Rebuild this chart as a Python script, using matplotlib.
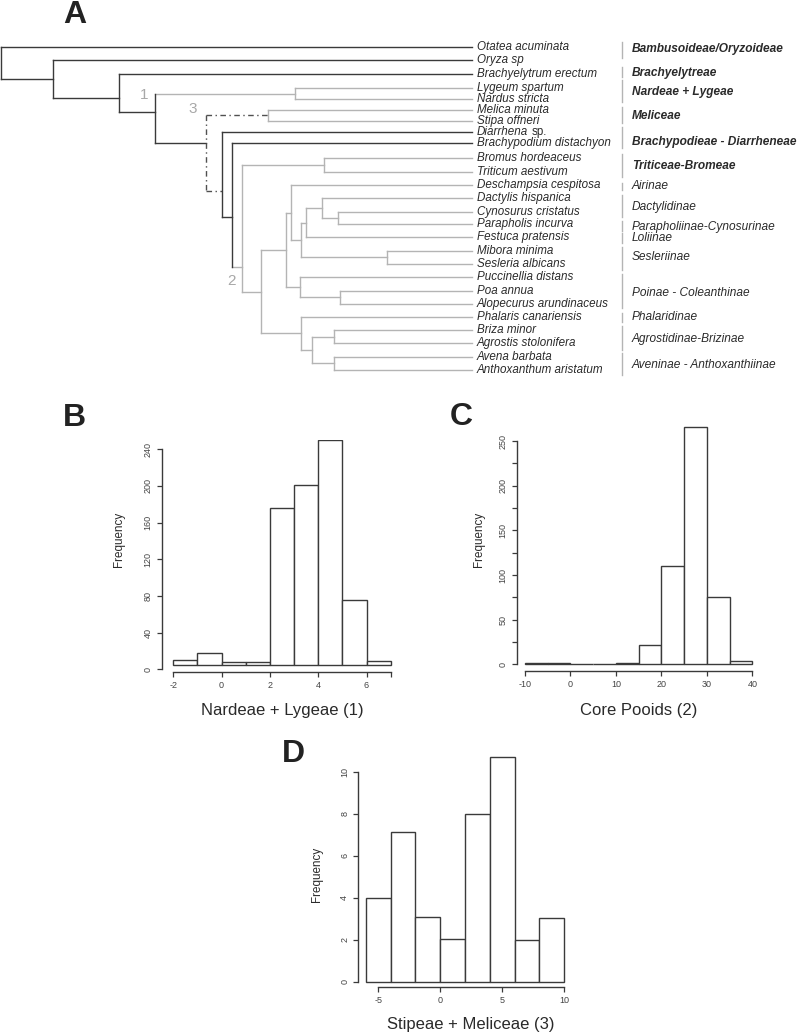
import matplotlib
matplotlib.use("Agg")
import matplotlib.pyplot as plt
import numpy as np

plt.rcParams["font.family"] = ["Liberation Sans", "DejaVu Sans"]

W, H = 798, 1035
DARK = "#3a3a3a"
GRAY = "#b4b4b4"
TXT = "#2a2a2a"

# ---------------- tree data ----------------
tip_names = [
    "Otatea acuminata", "Oryza sp", "Brachyelytrum erectum", "Lygeum spartum",
    "Nardus stricta", "Melica minuta", "Stipa offneri", "Diarrhena sp.",
    "Brachypodium distachyon", "Bromus hordeaceus", "Triticum aestivum",
    "Deschampsia cespitosa", "Dactylis hispanica", "Cynosurus cristatus",
    "Parapholis incurva", "Festuca pratensis", "Mibora minima", "Sesleria albicans",
    "Puccinellia distans", "Poa annua", "Alopecurus arundinaceus",
    "Phalaris canariensis", "Briza minor", "Agrostis stolonifera",
    "Avena barbata", "Anthoxanthum aristatum",
]
tip_row_values = [0, 0.98, 2.0, 3.03, 3.9, 4.7, 5.5, 6.33, 7.2, 8.33, 9.33,
                  10.33, 11.33, 12.33, 13.28, 14.25, 15.26, 16.26, 17.26, 18.26,
                  19.26, 20.21, 21.21, 22.21, 23.21, 24.21]
tip_depth = 100

# internal node: (depth, children)
nodes = {
    "root": (0, ["Otatea acuminata", "n_ory"]),
    "n_ory": (11.1, ["Oryza sp", "n_bry"]),
    "n_bry": (25.1, ["Brachyelytrum erectum", "n1"]),
    "n1": (32.7, ["n_lyg", "n3"]),
    "n_lyg": (62.5, ["Lygeum spartum", "Nardus stricta"]),
    "n3": (43.5, ["n_mel", "nA"]),
    "n_mel": (56.8, ["Melica minuta", "Stipa offneri"]),
    "nA": (46.9, ["Diarrhena sp.", "nB"]),
    "nB": (49.0, ["Brachypodium distachyon", "n2"]),
    "n2": (51.1, ["n_tri", "nR"]),
    "n_tri": (68.7, ["Bromus hordeaceus", "Triticum aestivum"]),
    "nR": (55.2, ["nP", "nAv"]),
    "nP": (60.5, ["nQ", "nPoi"]),
    "nQ": (61.7, ["Deschampsia cespitosa", "nS"]),
    "nS": (63.7, ["nU", "nMib"]),
    "nU": (64.8, ["nDac", "Festuca pratensis"]),
    "nDac": (68.1, ["Dactylis hispanica", "nCyn"]),
    "nCyn": (71.5, ["Cynosurus cristatus", "Parapholis incurva"]),
    "nMib": (81.9, ["Mibora minima", "Sesleria albicans"]),
    "nPoi": (63.6, ["Puccinellia distans", "nPoa"]),
    "nPoa": (72.0, ["Poa annua", "Alopecurus arundinaceus"]),
    "nAv": (63.8, ["Phalaris canariensis", "nV"]),
    "nV": (66.0, ["nBri", "nAve"]),
    "nBri": (70.7, ["Briza minor", "Agrostis stolonifera"]),
    "nAve": (70.7, ["Avena barbata", "Anthoxanthum aristatum"]),
}
# backbone nodes drawn off their children's midpoint
node_rows = {"n_bry": 3.83, "n1": 4.83, "n3": 7.16, "nA": 10.78,
             "nB": 12.7, "n2": 16.46}

dark_vertical = {"root", "n_ory", "n_bry", "n1", "nA", "nB"}
dashed_vertical = {"n3"}
dark_edges = {"Otatea acuminata", "n_ory", "Oryza sp", "n_bry",
              "Brachyelytrum erectum", "n1", "n3", "Diarrhena sp.", "nB",
              "Brachypodium distachyon"}
dashed_edges = {"n_mel", "nA"}

node_labels = [("1", 30.4, 3.58), ("3", 40.8, 4.63), ("2", 48.9, 17.53)]

clade_names = [
    "Bambusoideae/Oryzoideae", "Brachyelytreae", "Nardeae + Lygeae", "Meliceae",
    "Brachypodieae - Diarrheneae", "Triticeae-Bromeae", "Airinae", "Dactylidinae",
    "Parapholiinae-Cynosurinae", "Loliinae", "Sesleriinae", "Poinae - Coleanthinae",
    "Phalaridinae", "Agrostidinae-Brizinae", "Aveninae - Anthoxanthiinae",
]
clade_bold = [True] * 6 + [False] * 9
clade_spans = [(-0.42, 0.83), (1.46, 2.21), (2.45, 4.08), (4.46, 5.7),
               (6.0, 7.58), (8.0, 9.7), (10.16, 10.7), (11.08, 12.75),
               (13.0, 13.76), (13.95, 14.7), (15.0, 16.7), (17.0, 19.58),
               (19.9, 20.58), (20.9, 22.7), (22.95, 24.58)]
clade_text_rows = [0.15, 1.9, 3.33, 5.15, 7.08, 8.9, 10.38, 12.0, 13.46, 14.33,
                   15.75, 18.45, 20.2, 21.9, 23.83]

# ---------------- histogram data ----------------
b_edges = [-2, -1, 0, 1, 2, 3, 4, 5, 6, 7]
b_counts = [10, 18, 8, 8, 176, 201, 250, 76, 9]
c_edges = [-10, -5, 0, 5, 10, 15, 20, 25, 30, 35, 40]
c_counts = [2, 1, 0, 0, 1, 22, 110, 266, 75, 4]
d_edges = [-6, -4, -2, 0, 2, 4, 6, 8, 10]
d_counts = [4, 7.1, 3.1, 2.05, 8, 10.7, 2, 3.05]

fig = plt.figure(figsize=(W / 100, H / 100), dpi=100)

# ---------------- panel A: tree ----------------
tip_rows = dict(zip(tip_names, tip_row_values))


def row_of(n):
    if n in tip_rows:
        return tip_rows[n]
    if n in node_rows:
        return node_rows[n]
    ch = nodes[n][1]
    return (row_of(ch[0]) + row_of(ch[-1])) / 2


def depth_of(n):
    return tip_depth if n in tip_rows else nodes[n][0]


def style(kind):
    if kind == "dark":
        return dict(color=DARK, lw=1.0, solid_capstyle="projecting")
    if kind == "dash":
        return dict(color="#505050", lw=1.0, linestyle=(0, (4, 2.5, 1, 2.5)))
    return dict(color=GRAY, lw=1.0, solid_capstyle="projecting")


ax = fig.add_axes([0, 0, 1, 1])
ax.set_xlim(-0.21, 169.3)
ax.set_ylim(74.08, -3.55)
ax.axis("off")

for name, (d, children) in nodes.items():
    kind = "dark" if name in dark_vertical else ("dash" if name in dashed_vertical else "gray")
    ax.plot([d, d], [row_of(children[0]), row_of(children[-1])],
            zorder=2 if kind != "gray" else 1, **style(kind))
    for c in children:
        kind = "dark" if c in dark_edges else ("dash" if c in dashed_edges else "gray")
        ax.plot([d, depth_of(c)], [row_of(c), row_of(c)],
                zorder=2 if kind != "gray" else 1, **style(kind))

for name in tip_names:
    if name.endswith(" sp."):
        # genus in italics, "sp." upright
        t = ax.text(101.1, tip_rows[name], name[:-4], fontsize=8.4, style="italic",
                    color=TXT, ha="left", va="center")
        ax.annotate("sp.", xy=(1, 0), xycoords=t, xytext=(2.3, 0),
                    textcoords="offset points", fontsize=8.4, color=TXT,
                    ha="left", va="bottom")
    else:
        ax.text(101.1, tip_rows[name], name, fontsize=8.4, style="italic", color=TXT,
                ha="left", va="center")

for txt, d, r in node_labels:
    ax.text(d, r, txt, fontsize=11, color="#a8a8a8", ha="center", va="center")

for name, bold, (r0, r1), tr in zip(clade_names, clade_bold, clade_spans, clade_text_rows):
    ax.plot([131.9, 131.9], [r0, r1], color=GRAY, lw=1.0)
    ax.text(134.0, tr, name, fontsize=8.6, style="italic",
            fontweight="bold" if bold else "normal", color=TXT, ha="left", va="center")


# ---------------- histograms ----------------
def hist_panel(box, xlim, ylim, edges, counts, base, xticks, xlabels, yticks, ylabels,
               xbounds, ybounds):
    left, top, right, bottom = box
    h = fig.add_axes([left / W, 1 - bottom / H, (right - left) / W, (bottom - top) / H])
    h.patch.set_alpha(0)
    edges = np.array(edges, dtype=float)
    counts = np.array(counts, dtype=float)
    h.bar(edges[:-1], counts - base, width=np.diff(edges), bottom=base, align="edge",
          facecolor="white", edgecolor=DARK, linewidth=1.0)
    h.set_xlim(*xlim)
    h.set_ylim(*ylim)
    for s in ("top", "right"):
        h.spines[s].set_visible(False)
    for s in ("left", "bottom"):
        h.spines[s].set_color(DARK)
        h.spines[s].set_linewidth(1.0)
    h.spines["bottom"].set_bounds(*xbounds)
    h.spines["left"].set_bounds(*ybounds)
    h.set_xticks(xticks)
    h.set_xticklabels(xlabels)
    h.set_yticks(yticks)
    h.set_yticklabels(ylabels)
    h.tick_params(direction="out", length=3.5, width=0.9, color=DARK, labelsize=6.5,
                  labelcolor="#444444", pad=3)
    h.tick_params(axis="y", labelrotation=90)
    for t in h.get_yticklabels():
        t.set_va("center")
    return h


hist_panel((161.7, 440, 395, 671.7), (-2.48, 7.18), (-2.6, 250.1),
           b_edges, b_counts, 4.7,
           [-2, 0, 2, 4, 6, 7], ["-2", "0", "2", "4", "6", ""],
           [0, 40, 80, 120, 160, 200, 240], ["0", "40", "80", "120", "160", "200", "240"],
           (-2, 7), (0, 240))

c_yt = [0, 25, 50, 75, 100, 125, 150, 175, 200, 225, 250]
hist_panel((516.7, 420, 757, 671), (-11.83, 41.03), (-7.5, 273.6),
           c_edges, c_counts, 0,
           [-10, 0, 10, 20, 30, 40], ["-10", "0", "10", "20", "30", "40"],
           c_yt, [str(v) if v % 50 == 0 else "" for v in c_yt],
           (-10, 40), (0, 250))

hist_panel((358.3, 745, 568, 987.3), (-6.61, 10.3), (-0.26, 11.26),
           d_edges, d_counts, 0,
           [-5, 0, 5, 10], ["-5", "0", "5", "10"],
           [0, 2, 4, 6, 8, 10], ["0", "2", "4", "6", "8", "10"],
           (-5, 10), (0, 10))


def ftext(x, y, s, **kw):
    fig.text(x / W, 1 - y / H, s, **kw)


for s, x, y in [("A", 75, 15), ("B", 74, 418), ("C", 461.5, 417), ("D", 293, 754)]:
    ftext(x, y, s, fontsize=23, fontweight="bold", color="#222222", ha="center", va="center")

for x, y in [(119, 539), (478.5, 539), (316.7, 874)]:
    ftext(x, y, "Frequency", fontsize=8.4, rotation=90, color=TXT, ha="center", va="center")

for s, x, y in [("Nardeae + Lygeae (1)", 282, 711), ("Core Pooids (2)", 638.7, 711),
                ("Stipeae + Meliceae (3)", 471, 1025)]:
    ftext(x, y, s, fontsize=12, color=TXT, ha="center", va="center")

fig.savefig("out.png", dpi=100, facecolor="white")
